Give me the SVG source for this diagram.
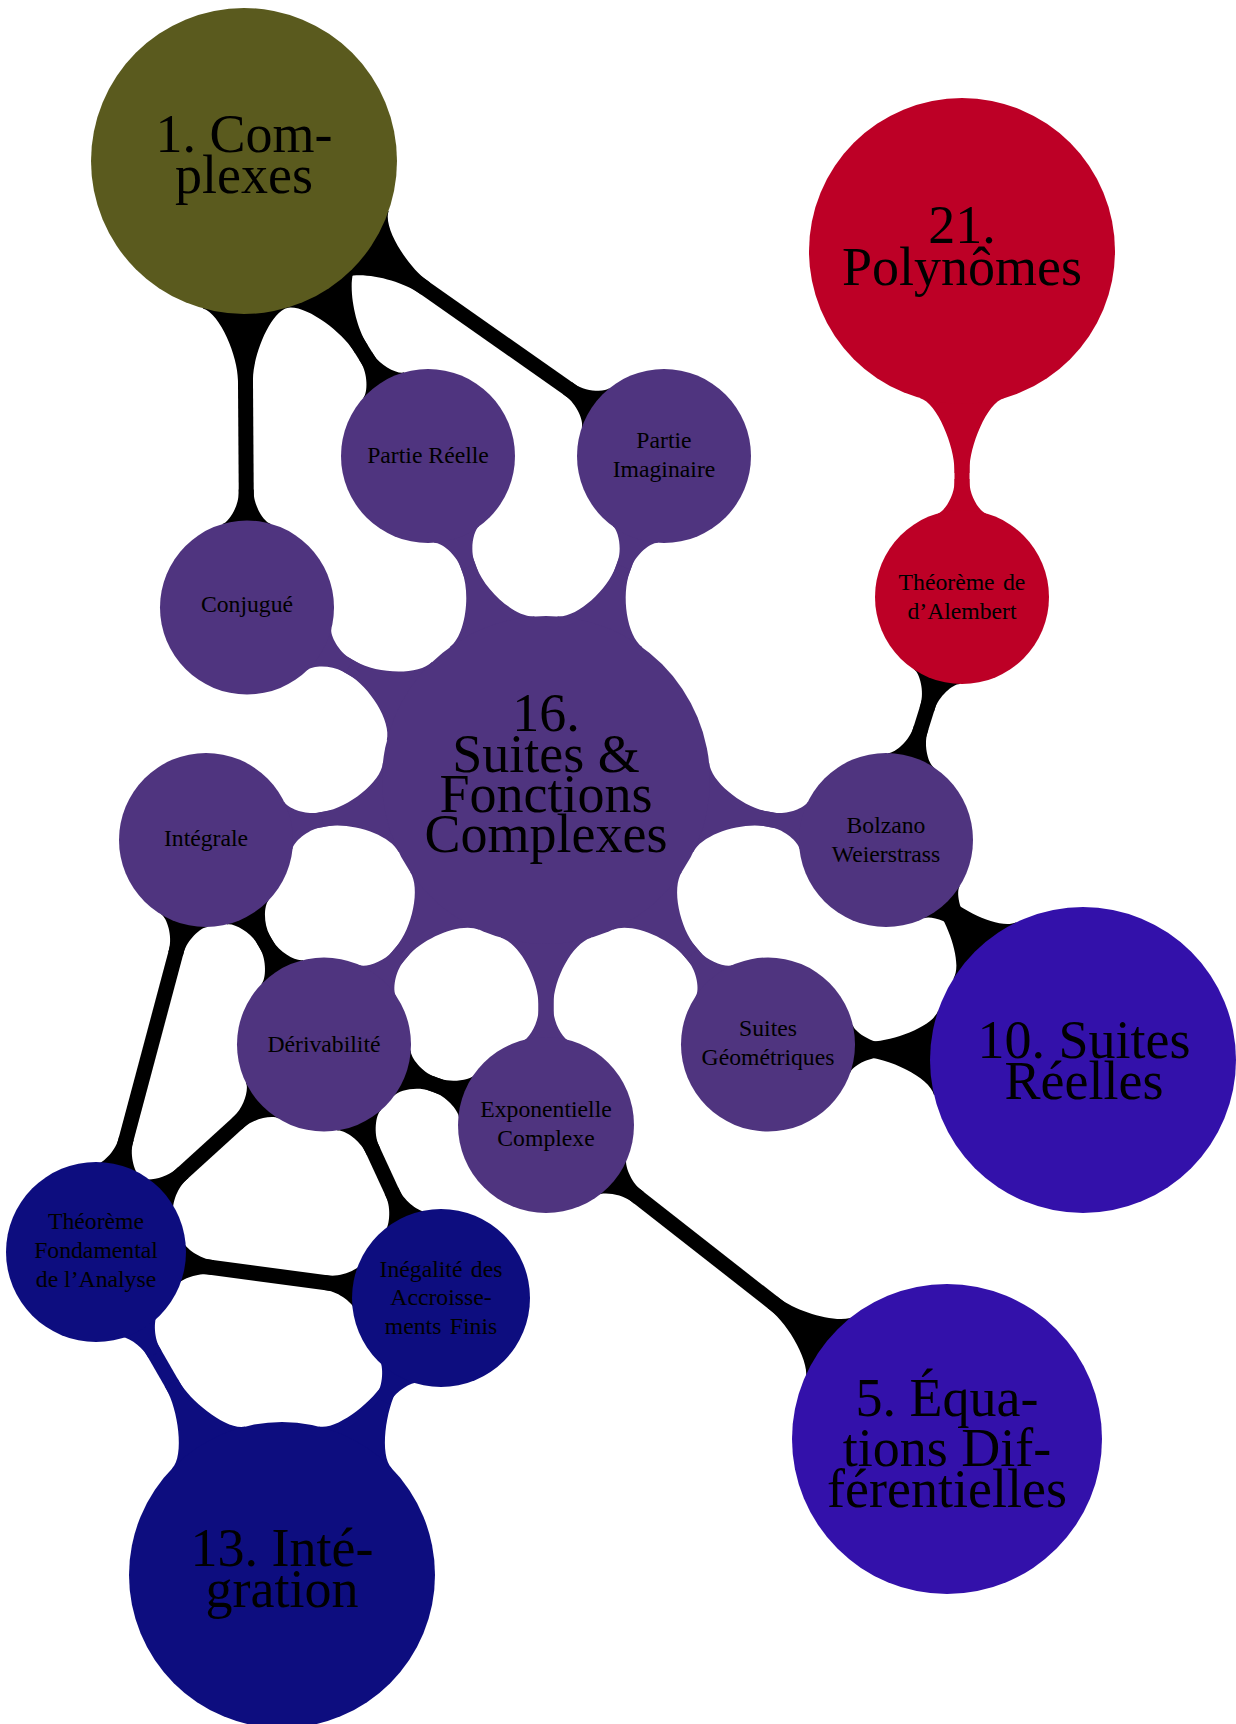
<svg xmlns="http://www.w3.org/2000/svg" width="1236" height="1724" viewBox="0 0 1236 1724">
<style>
.bar{fill:none;stroke-width:15;stroke-linecap:butt}
.k{stroke:#000}.p{stroke:#4f347f}.r{stroke:#bd0026}.d{stroke:#0d0d7f}
.t{font-family:"Liberation Serif","Times New Roman",serif;fill:#000;text-anchor:middle}
.b{font-size:54px}
.s{font-size:23.7px}
.j{word-spacing:2.5px}
.olive{fill:#5a5a1e}.red{fill:#bd0026}.pur{fill:#4f347f}.blu{fill:#3311aa}.navy{fill:#0d0d7f}
</style>
<defs>
<path id="neckS" d="M-83.6 24 C-85.5 17.3 -101.8 7.5 -114.8 7.5 L-118 7.5 L-118 -7.5 L-114.8 -7.5 C-101.8 -7.5 -85.5 -17.3 -83.6 -24 L-40 0 Z"/>
<path id="neckB" d="M-147.1 42.2 C-152.2 24.5 -195.8 7.5 -218.8 7.5 L-222 7.5 L-222 -7.5 L-218.8 -7.5 C-195.8 -7.5 -152.2 -24.5 -147.1 -42.2 L-80 0 Z"/>
<path id="neckC" d="M-157.7 45.2 C-163.1 26.3 -199.4 7.5 -224 7.5 L-227 7.5 L-227 -7.5 L-224 -7.5 C-199.4 -7.5 -163.1 -26.3 -157.7 -45.2 L-80 0 Z"/>
<marker id="ns-k" viewBox="-300 -150 600 300" markerWidth="600" markerHeight="300" refX="0" refY="0" markerUnits="userSpaceOnUse" orient="auto-start-reverse" overflow="visible"><use href="#neckS" fill="#000"/></marker>
<marker id="nb-k" viewBox="-300 -150 600 300" markerWidth="600" markerHeight="300" refX="0" refY="0" markerUnits="userSpaceOnUse" orient="auto-start-reverse" overflow="visible"><use href="#neckB" fill="#000"/></marker>
<marker id="ns-p" viewBox="-300 -150 600 300" markerWidth="600" markerHeight="300" refX="0" refY="0" markerUnits="userSpaceOnUse" orient="auto-start-reverse" overflow="visible"><use href="#neckS" fill="#4f347f"/></marker>
<marker id="nc-p" viewBox="-300 -150 600 300" markerWidth="600" markerHeight="300" refX="0" refY="0" markerUnits="userSpaceOnUse" orient="auto-start-reverse" overflow="visible"><use href="#neckC" fill="#4f347f"/></marker>
<marker id="ns-r" viewBox="-300 -150 600 300" markerWidth="600" markerHeight="300" refX="0" refY="0" markerUnits="userSpaceOnUse" orient="auto-start-reverse" overflow="visible"><use href="#neckS" fill="#bd0026"/></marker>
<marker id="nb-r" viewBox="-300 -150 600 300" markerWidth="600" markerHeight="300" refX="0" refY="0" markerUnits="userSpaceOnUse" orient="auto-start-reverse" overflow="visible"><use href="#neckB" fill="#bd0026"/></marker>
<marker id="ns-d" viewBox="-300 -150 600 300" markerWidth="600" markerHeight="300" refX="0" refY="0" markerUnits="userSpaceOnUse" orient="auto-start-reverse" overflow="visible"><use href="#neckS" fill="#0d0d7f"/></marker>
<marker id="nb-d" viewBox="-300 -150 600 300" markerWidth="600" markerHeight="300" refX="0" refY="0" markerUnits="userSpaceOnUse" orient="auto-start-reverse" overflow="visible"><use href="#neckB" fill="#0d0d7f"/></marker>
</defs>
<g id="connectors">
<path class="bar p" d="M546 780 L428 456" marker-start="url(#nc-p)" marker-end="url(#ns-p)"/>
<path class="bar p" d="M546 780 L664 456" marker-start="url(#nc-p)" marker-end="url(#ns-p)"/>
<path class="bar p" d="M546 780 L247 607.5" marker-start="url(#nc-p)" marker-end="url(#ns-p)"/>
<path class="bar p" d="M546 780 L206 840" marker-start="url(#nc-p)" marker-end="url(#ns-p)"/>
<path class="bar p" d="M546 780 L886 840" marker-start="url(#nc-p)" marker-end="url(#ns-p)"/>
<path class="bar p" d="M546 780 L768 1044.5" marker-start="url(#nc-p)" marker-end="url(#ns-p)"/>
<path class="bar p" d="M546 780 L546 1125" marker-start="url(#nc-p)" marker-end="url(#ns-p)"/>
<path class="bar p" d="M546 780 L324 1044.5" marker-start="url(#nc-p)" marker-end="url(#ns-p)"/>
<path class="bar r" d="M962 251 L962 597" marker-start="url(#nb-r)" marker-end="url(#ns-r)"/>
<path class="bar d" d="M282 1575 L96 1252" marker-start="url(#nb-d)" marker-end="url(#ns-d)"/>
<path class="bar d" d="M282 1575 L441 1298" marker-start="url(#nb-d)" marker-end="url(#ns-d)"/>
<path class="bar k" d="M244 161 L247 607.5" marker-start="url(#nb-k)" marker-end="url(#ns-k)"/>
<path class="bar k" d="M244 161 L428 456" marker-start="url(#nb-k)" marker-end="url(#ns-k)"/>
<path class="bar k" d="M244 161 L664 456" marker-start="url(#nb-k)" marker-end="url(#ns-k)"/>
<path class="bar k" d="M962 597 L886 840" marker-start="url(#ns-k)" marker-end="url(#ns-k)"/>
<path class="bar k" d="M886 840 L1083 1060" marker-start="url(#ns-k)" marker-end="url(#nb-k)"/>
<path class="bar k" d="M768 1044.5 L1083 1060" marker-start="url(#ns-k)" marker-end="url(#nb-k)"/>
<path class="bar k" d="M546 1125 L947 1439" marker-start="url(#ns-k)" marker-end="url(#nb-k)"/>
<path class="bar k" d="M206 840 L324 1044.5" marker-start="url(#ns-k)" marker-end="url(#ns-k)"/>
<path class="bar k" d="M206 840 L96 1252" marker-start="url(#ns-k)" marker-end="url(#ns-k)"/>
<path class="bar k" d="M324 1044.5 L96 1252" marker-start="url(#ns-k)" marker-end="url(#ns-k)"/>
<path class="bar k" d="M324 1044.5 L441 1298" marker-start="url(#ns-k)" marker-end="url(#ns-k)"/>
<path class="bar k" d="M324 1044.5 L546 1125" marker-start="url(#ns-k)" marker-end="url(#ns-k)"/>
<path class="bar k" d="M96 1252 L441 1298" marker-start="url(#ns-k)" marker-end="url(#ns-k)"/>
</g>
<g id="n-complexes"><circle class="olive" cx="244" cy="161" r="153"/><text class="t b" x="244" y="152">1. Com-</text><text class="t b" x="244" y="193">plexes</text></g>
<g id="n-polynomes"><circle class="red" cx="962" cy="251" r="153"/><text class="t b" x="962" y="243">21.</text><text class="t b" x="962" y="285">Polynômes</text></g>
<g id="n-suites-fonctions"><circle class="pur" cx="546" cy="780" r="164"/><text class="t b" x="546" y="731">16.</text><text class="t b" x="546" y="772">Suites &amp;</text><text class="t b" x="546" y="812">Fonctions</text><text class="t b" x="546" y="852">Complexes</text></g>
<g id="n-suites-reelles"><circle class="blu" cx="1083" cy="1060" r="153"/><text class="t b" x="1084" y="1058">10. Suites</text><text class="t b" x="1084" y="1099">Réelles</text></g>
<g id="n-integration"><circle class="navy" cx="282" cy="1575" r="153"/><text class="t b" x="282" y="1566">13. Inté-</text><text class="t b" x="282" y="1607">gration</text></g>
<g id="n-equations"><circle class="blu" cx="947" cy="1439" r="155"/><text class="t b" x="947" y="1416">5. Équa-</text><text class="t b" x="947" y="1466">tions Dif-</text><text class="t b" x="947" y="1507">férentielles</text></g>
<g id="n-partie-reelle"><circle class="pur" cx="428" cy="456" r="87"/><text class="t s" x="428" y="463">Partie Réelle</text></g>
<g id="n-partie-imaginaire"><circle class="pur" cx="664" cy="456" r="87"/><text class="t s" x="664" y="448">Partie</text><text class="t s" x="664" y="477">Imaginaire</text></g>
<g id="n-conjugue"><circle class="pur" cx="247" cy="607.5" r="87"/><text class="t s" x="247" y="612">Conjugué</text></g>
<g id="n-alembert"><circle class="red" cx="962" cy="597" r="87"/><text class="t s j" x="962" y="590">Théorème de</text><text class="t s" x="962" y="619">d’Alembert</text></g>
<g id="n-integrale"><circle class="pur" cx="206" cy="840" r="87"/><text class="t s" x="206" y="846">Intégrale</text></g>
<g id="n-bolzano"><circle class="pur" cx="886" cy="840" r="87"/><text class="t s" x="886" y="833">Bolzano</text><text class="t s" x="886" y="862">Weierstrass</text></g>
<g id="n-derivabilite"><circle class="pur" cx="324" cy="1044.5" r="87"/><text class="t s" x="324" y="1052">Dérivabilité</text></g>
<g id="n-suites-geom"><circle class="pur" cx="768" cy="1044.5" r="87"/><text class="t s" x="768" y="1036">Suites</text><text class="t s" x="768" y="1065">Géométriques</text></g>
<g id="n-exponentielle"><circle class="pur" cx="546" cy="1125" r="88"/><text class="t s" x="546" y="1117">Exponentielle</text><text class="t s" x="546" y="1146">Complexe</text></g>
<g id="n-tfa"><circle class="navy" cx="96" cy="1252" r="90"/><text class="t s" x="96" y="1229">Théorème</text><text class="t s" x="96" y="1258">Fondamental</text><text class="t s" x="96" y="1287">de l’Analyse</text></g>
<g id="n-iaf"><circle class="navy" cx="441" cy="1298" r="89"/><text class="t s j" x="441" y="1277">Inégalité des</text><text class="t s" x="441" y="1305">Accroisse-</text><text class="t s j" x="441" y="1334">ments Finis</text></g>
</svg>
